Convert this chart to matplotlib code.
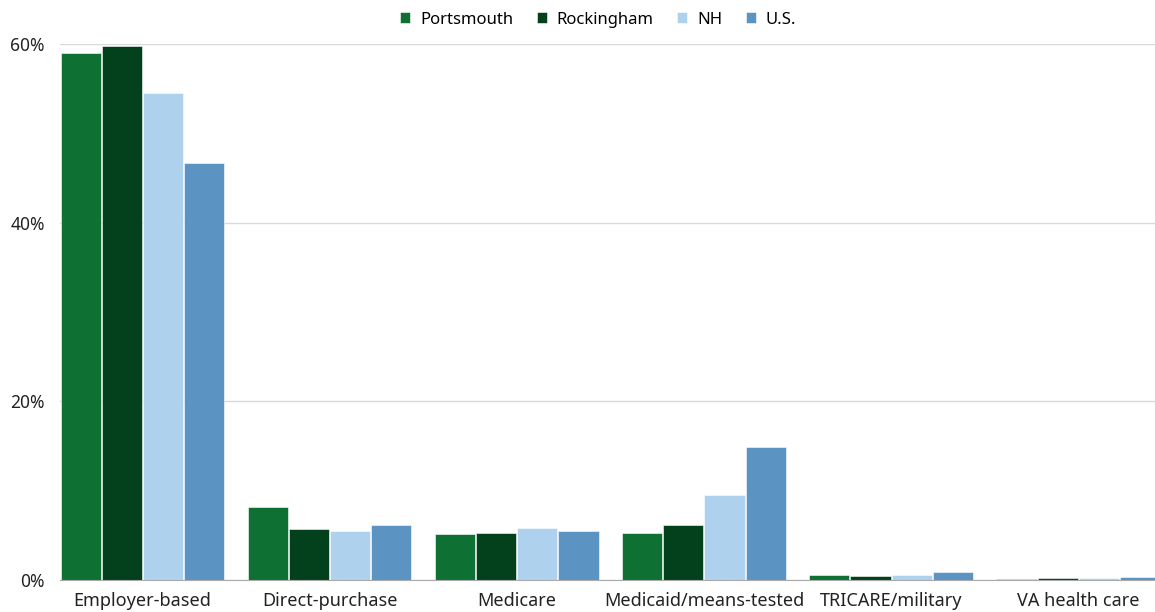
import matplotlib

matplotlib.use("Agg")
import matplotlib.pyplot as plt
import numpy as np
from matplotlib.ticker import FuncFormatter

categories = [
    "Employer-based",
    "Direct-purchase",
    "Medicare",
    "Medicaid/means-tested",
    "TRICARE/military",
    "VA health care",
]
series_names = ["Portsmouth", "Rockingham", "NH", "U.S."]
portsmouth = [59.0, 8.2, 5.2, 5.3, 0.6, 0.1]
rockingham = [59.8, 5.7, 5.3, 6.2, 0.5, 0.25]
nh = [54.5, 5.5, 5.8, 9.5, 0.6, 0.2]
us = [46.7, 6.2, 5.5, 14.9, 0.9, 0.3]
yticks = [0, 20, 40, 60]

colors = ["#0e7032", "#03401c", "#aed2ee", "#5b94c2"]

plt.rcParams["font.family"] = ["Noto Sans", "DejaVu Sans"]

fig = plt.figure(figsize=(11.55, 6.12), dpi=100)
ax = fig.add_axes([0.052, 0.0523, 0.948, 0.876])

x = np.arange(len(categories))
width = 0.215
offsets = [-0.33, -0.11, 0.11, 0.33]
for vals, name, color, off in zip([portsmouth, rockingham, nh, us], series_names, colors, offsets):
    ax.bar(x + off, vals, width, color=color, label=name, edgecolor="white", linewidth=0.4)

ax.set_xlim(-0.44, 5.41)
ax.set_ylim(0, 60)
ax.set_yticks(yticks)
ax.yaxis.set_major_formatter(FuncFormatter(lambda v, p: f"{v:.0f}%"))
ax.set_xticks(x)
ax.set_xticklabels(categories)
ax.tick_params(axis="x", length=0, pad=9, labelsize=13, colors="#222222")
ax.tick_params(axis="y", length=0, pad=11, labelsize=12.5, colors="#222222")
ax.grid(axis="y", color="#d9d9d9", linewidth=1)
ax.set_axisbelow(True)
for side in ["left", "right", "top"]:
    ax.spines[side].set_visible(False)
ax.spines["bottom"].set_color("#aaaaaa")

fig.legend(
    loc="center",
    bbox_to_anchor=(0.518, 0.968),
    ncol=4,
    frameon=False,
    fontsize=12,
    handlelength=0.6,
    handleheight=0.6,
    handletextpad=0.6,
    columnspacing=1.4,
)

plt.savefig("out.png", dpi=100)
plt.close(fig)
